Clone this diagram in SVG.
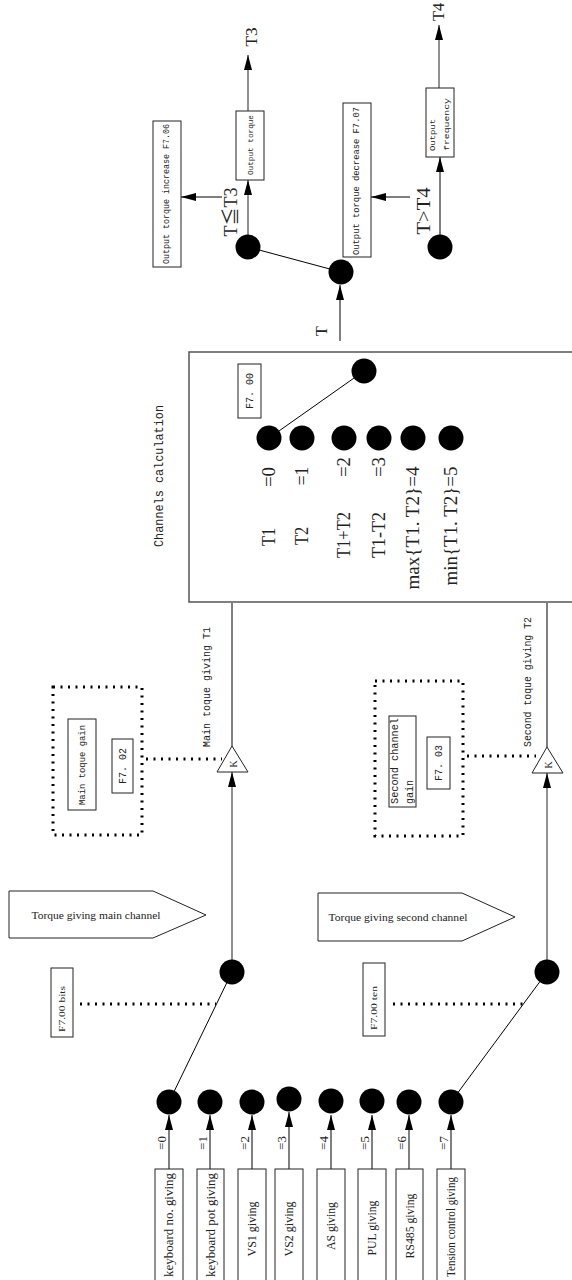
<svg xmlns="http://www.w3.org/2000/svg" width="572" height="1280" viewBox="0 0 572 1280">
<style>
.bg{fill:#fff}
.box{fill:#fff;stroke:#222;stroke-width:1}
.cbox{fill:#fff;stroke:#555;stroke-width:1.5}
.ln{fill:none;stroke:#000;stroke-width:1}
.gl{fill:none;stroke:#555;stroke-width:1.3}
.dash{fill:none;stroke:#000;stroke-width:3;stroke-dasharray:2 5.5}
.dot{fill:#000}
.mono{font-family:"Liberation Mono","DejaVu Sans Mono",monospace;fill:#222}
.ser{font-family:"Liberation Serif","DejaVu Serif","Noto Sans CJK SC",serif;fill:#222}
.c{text-anchor:middle;dominant-baseline:central}
.s{text-anchor:start;dominant-baseline:central}
.eq{font-size:13px}
</style>
<defs>
<marker id="ar" viewBox="0 0 15 8" markerWidth="15" markerHeight="8" refX="15" refY="4" orient="auto" markerUnits="userSpaceOnUse">
<path d="M0,0 L15,4 L0,8 z" fill="#000"/>
</marker>
</defs>
<rect class="bg" x="0" y="0" width="572" height="1280"/>

<g id="channels-box">
<rect class="cbox" x="189" y="352" width="400" height="250"/>
</g>

<g id="connectors">
<line class="ln" x1="169" y1="1169" x2="169" y2="1115" marker-end="url(#ar)"/>
<line class="ln" x1="210" y1="1169" x2="210" y2="1115" marker-end="url(#ar)"/>
<line class="ln" x1="252" y1="1169" x2="252" y2="1115" marker-end="url(#ar)"/>
<line class="ln" x1="289" y1="1169" x2="289" y2="1112" marker-end="url(#ar)"/>
<line class="ln" x1="331" y1="1169" x2="331" y2="1115" marker-end="url(#ar)"/>
<line class="ln" x1="372" y1="1169" x2="372" y2="1115" marker-end="url(#ar)"/>
<line class="ln" x1="409" y1="1169" x2="409" y2="1115" marker-end="url(#ar)"/>
<line class="ln" x1="451" y1="1169" x2="451" y2="1115" marker-end="url(#ar)"/>
<line class="ln" x1="169" y1="1102" x2="232" y2="972"/>
<line class="ln" x1="451" y1="1102" x2="547" y2="972"/>
<line class="dash" x1="80" y1="1004" x2="216" y2="1004"/>
<line class="dash" x1="393" y1="1004" x2="527" y2="1004"/>
<line class="dash" x1="146" y1="759" x2="222" y2="759"/>
<line class="dash" x1="467" y1="756" x2="536" y2="756"/>
<line class="gl" x1="232" y1="972" x2="232" y2="772" marker-end="url(#ar)"/>
<line class="gl" x1="547" y1="972" x2="547" y2="773" marker-end="url(#ar)"/>
<line class="ln" x1="232" y1="746" x2="232" y2="603"/>
<line class="ln" x1="547" y1="747" x2="547" y2="603"/>
<line class="ln" x1="269" y1="438" x2="364" y2="371"/>
<line class="ln" x1="340" y1="341" x2="340" y2="285" marker-end="url(#ar)"/>
<line class="ln" x1="341" y1="272" x2="248" y2="247"/>
<line class="gl" x1="248" y1="247" x2="248" y2="180" marker-end="url(#ar)"/>
<line class="gl" x1="248" y1="111" x2="248" y2="55" marker-end="url(#ar)"/>
<line class="gl" x1="222" y1="197" x2="181" y2="197" marker-end="url(#ar)"/>
<line class="gl" x1="410" y1="197" x2="371" y2="197" marker-end="url(#ar)"/>
<line class="ln" x1="440" y1="247" x2="440" y2="157" marker-end="url(#ar)"/>
<line class="gl" x1="439" y1="88" x2="439" y2="25" marker-end="url(#ar)"/>
</g>

<g id="in0"><rect class="box" x="155" y="1169" width="28" height="120"/><text class="ser c" font-size="12" textLength="104" lengthAdjust="spacingAndGlyphs" transform="translate(169 1225) rotate(-90)">keyboard no.  giving</text><text class="ser c eq" transform="translate(161 1143) rotate(-90)">=0</text><circle class="dot" cx="169" cy="1102" r="12.5"/></g>
<g id="in1"><rect class="box" x="197" y="1169" width="27" height="120"/><text class="ser c" font-size="12" textLength="104" lengthAdjust="spacingAndGlyphs" transform="translate(210.5 1225) rotate(-90)">keyboard pot giving</text><text class="ser c eq" transform="translate(202 1143) rotate(-90)">=1</text><circle class="dot" cx="210" cy="1102" r="12.5"/></g>
<g id="in2"><rect class="box" x="238" y="1169" width="28" height="120"/><text class="ser c" font-size="12" textLength="55" lengthAdjust="spacingAndGlyphs" transform="translate(252 1229) rotate(-90)">VS1 giving</text><text class="ser c eq" transform="translate(244 1143) rotate(-90)">=2</text><circle class="dot" cx="252" cy="1102" r="12.5"/></g>
<g id="in3"><rect class="box" x="275" y="1169" width="28" height="120"/><text class="ser c" font-size="12" textLength="55" lengthAdjust="spacingAndGlyphs" transform="translate(289 1229) rotate(-90)">VS2 giving</text><text class="ser c eq" transform="translate(281 1143) rotate(-90)">=3</text><circle class="dot" cx="289" cy="1099" r="12.5"/></g>
<g id="in4"><rect class="box" x="317" y="1169" width="28" height="120"/><text class="ser c" font-size="12" textLength="48" lengthAdjust="spacingAndGlyphs" transform="translate(331 1226) rotate(-90)">AS giving</text><text class="ser c eq" transform="translate(323 1143) rotate(-90)">=4</text><circle class="dot" cx="331" cy="1101" r="12.5"/></g>
<g id="in5"><rect class="box" x="358" y="1169" width="28" height="120"/><text class="ser c" font-size="12" textLength="55" lengthAdjust="spacingAndGlyphs" transform="translate(372 1228) rotate(-90)">PUL giving</text><text class="ser c eq" transform="translate(364 1143) rotate(-90)">=5</text><circle class="dot" cx="372" cy="1101" r="12.5"/></g>
<g id="in6"><rect class="box" x="396" y="1169" width="27" height="120"/><text class="ser c" font-size="12" textLength="65" lengthAdjust="spacingAndGlyphs" transform="translate(409.5 1226) rotate(-90)">RS485 giving</text><text class="ser c eq" transform="translate(401 1143) rotate(-90)">=6</text><circle class="dot" cx="409" cy="1102" r="12.5"/></g>
<g id="in7"><rect class="box" x="437" y="1169" width="28" height="120"/><text class="ser c" font-size="12" textLength="100" lengthAdjust="spacingAndGlyphs" transform="translate(451 1227) rotate(-90)">Tension control giving</text><text class="ser c eq" transform="translate(443 1143) rotate(-90)">=7</text><circle class="dot" cx="451" cy="1102" r="12.5"/></g>

<g id="sel-main"><circle class="dot" cx="232" cy="972" r="12.5"/></g>
<g id="sel-second"><circle class="dot" cx="547" cy="972" r="12.5"/></g>

<g id="p-bits"><rect class="box" x="51" y="968" width="22" height="69"/><text class="ser c" font-size="9" textLength="46" lengthAdjust="spacingAndGlyphs" transform="translate(62 1009) rotate(-90)">F7.00 bits</text></g>
<g id="p-ten"><rect class="box" x="363" y="963" width="22" height="73"/><text class="ser c" font-size="9" textLength="44" lengthAdjust="spacingAndGlyphs" transform="translate(374 1008) rotate(-90)">F7.00 ten</text></g>

<g id="lbl-main"><path class="box" d="M9,891 L153,891 L206,915 L153,938 L9,938 Z"/><text class="ser c" font-size="11" textLength="129" lengthAdjust="spacingAndGlyphs" x="96" y="915">Torque giving main channel</text></g>
<g id="lbl-second"><path class="box" d="M318,893 L462,893 L515,917 L462,941 L318,941 Z"/><text class="ser c" font-size="11" textLength="139" lengthAdjust="spacingAndGlyphs" x="398" y="917">Torque giving second channel</text></g>

<g id="gain-main">
<rect class="dash" x="53" y="687" width="89" height="148"/>
<rect class="box" x="68" y="719" width="28" height="91"/>
<text class="mono c" font-size="9.5" textLength="80" lengthAdjust="spacingAndGlyphs" transform="translate(82 765) rotate(-90)">Main toque gain</text>
<rect class="box" x="112" y="739" width="21" height="54"/>
<text class="mono c" font-size="11" textLength="36" lengthAdjust="spacingAndGlyphs" transform="translate(122.5 766) rotate(-90)">F7. 02</text>
</g>
<g id="gain-second">
<rect class="dash" x="375" y="681" width="88" height="155"/>
<rect class="box" x="389" y="716" width="27" height="91"/>
<text class="mono s" font-size="10" textLength="86" lengthAdjust="spacingAndGlyphs" transform="translate(395 804) rotate(-90)">Second channel</text>
<text class="mono s" font-size="10" textLength="24" lengthAdjust="spacingAndGlyphs" transform="translate(410 804) rotate(-90)">gain</text>
<rect class="box" x="427" y="737" width="23" height="52"/>
<text class="mono c" font-size="11" textLength="36" lengthAdjust="spacingAndGlyphs" transform="translate(438.5 763) rotate(-90)">F7. 03</text>
</g>

<g id="k-main"><path class="box" d="M232,746 L248,772 L217,772 Z"/><text class="ser c" font-size="10" transform="translate(233 764) rotate(-90)">K</text></g>
<g id="k-second"><path class="box" d="M547,747 L563,773 L532,773 Z"/><text class="ser c" font-size="10" transform="translate(548 765) rotate(-90)">K</text></g>

<g id="t1-label"><text class="mono c" font-size="10" textLength="120" lengthAdjust="spacingAndGlyphs" transform="translate(207 687) rotate(-90)">Main toque giving T1</text></g>
<g id="t2-label"><text class="mono c" font-size="10" textLength="130" lengthAdjust="spacingAndGlyphs" transform="translate(528 682) rotate(-90)">Second toque giving T2</text></g>

<g id="channels">
<text class="mono c" font-size="12" textLength="142" lengthAdjust="spacingAndGlyphs" transform="translate(160 476) rotate(-90)">Channels calculation</text>
<rect class="box" x="238" y="364" width="23" height="54"/>
<text class="mono c" font-size="11" textLength="36" lengthAdjust="spacingAndGlyphs" transform="translate(249.5 391) rotate(-90)">F7. 00</text>
<circle class="dot" cx="364" cy="371" r="12.5"/>
<circle class="dot" cx="269" cy="438" r="12.5"/>
<circle class="dot" cx="302" cy="438" r="12.5"/>
<circle class="dot" cx="344" cy="438" r="12.5"/>
<circle class="dot" cx="379" cy="438" r="12.5"/>
<circle class="dot" cx="413" cy="438" r="12.5"/>
<circle class="dot" cx="451" cy="438" r="12.5"/>
<text class="ser c" font-size="18" textLength="18" lengthAdjust="spacingAndGlyphs" transform="translate(269 537) rotate(-90)">T1</text>
<text class="ser c" font-size="18" textLength="20" lengthAdjust="spacingAndGlyphs" transform="translate(269 477) rotate(-90)">=0</text>
<text class="ser c" font-size="18" textLength="18" lengthAdjust="spacingAndGlyphs" transform="translate(302 536) rotate(-90)">T2</text>
<text class="ser c" font-size="18" textLength="19" lengthAdjust="spacingAndGlyphs" transform="translate(302 476) rotate(-90)">=1</text>
<text class="ser c" font-size="18" textLength="46" lengthAdjust="spacingAndGlyphs" transform="translate(344 535) rotate(-90)">T1+T2</text>
<text class="ser c" font-size="18" textLength="20" lengthAdjust="spacingAndGlyphs" transform="translate(344 467) rotate(-90)">=2</text>
<text class="ser c" font-size="18" textLength="46" lengthAdjust="spacingAndGlyphs" transform="translate(379 535) rotate(-90)">T1-T2</text>
<text class="ser c" font-size="18" textLength="20" lengthAdjust="spacingAndGlyphs" transform="translate(379 467) rotate(-90)">=3</text>
<text class="ser c" font-size="18" textLength="123" lengthAdjust="spacingAndGlyphs" transform="translate(413 528) rotate(-90)">max{T1. T2}=4</text>
<text class="ser c" font-size="18" textLength="119" lengthAdjust="spacingAndGlyphs" transform="translate(451 526) rotate(-90)">min{T1. T2}=5</text>
</g>

<g id="t-label"><text class="ser c" font-size="16" transform="translate(321 331) rotate(-90)">T</text></g>
<g id="sw-out"><circle class="dot" cx="341" cy="272" r="12.5"/></g>
<g id="sw-le"><circle class="dot" cx="248" cy="247" r="12.5"/><text class="ser c" font-size="18" textLength="49" lengthAdjust="spacingAndGlyphs" transform="translate(231 212) rotate(-90)">T≦T3</text></g>
<g id="sw-gt"><circle class="dot" cx="440" cy="247" r="12.5"/><text class="ser c" font-size="18" textLength="47" lengthAdjust="spacingAndGlyphs" transform="translate(424 211) rotate(-90)">T&gt;T4</text></g>

<g id="inc"><rect class="box" x="153" y="121" width="28" height="146"/><text class="mono c" font-size="8.5" textLength="140" lengthAdjust="spacingAndGlyphs" transform="translate(167 194) rotate(-90)">Output torque increase F7.06</text></g>
<g id="otq"><rect class="box" x="236" y="111" width="28" height="69"/><text class="mono c" font-size="8" textLength="60" lengthAdjust="spacingAndGlyphs" transform="translate(250 145) rotate(-90)">Output torque</text></g>
<g id="dec"><rect class="box" x="343" y="103" width="28" height="154"/><text class="mono c" font-size="9" textLength="148" lengthAdjust="spacingAndGlyphs" transform="translate(357 181) rotate(-90)">Output torque decrease F7.07</text></g>
<g id="ofq"><rect class="box" x="426" y="88" width="28" height="69"/><text class="mono s" font-size="8" textLength="32" lengthAdjust="spacingAndGlyphs" transform="translate(432 151) rotate(-90)">Output</text><text class="mono s" font-size="8" textLength="53" lengthAdjust="spacingAndGlyphs" transform="translate(446 151) rotate(-90)">frequency</text></g>

<g id="t3"><text class="ser c" font-size="16" textLength="19" lengthAdjust="spacingAndGlyphs" transform="translate(251 37) rotate(-90)">T3</text></g>
<g id="t4"><text class="ser c" font-size="16" textLength="18" lengthAdjust="spacingAndGlyphs" transform="translate(438 12) rotate(-90)">T4</text></g>
</svg>
